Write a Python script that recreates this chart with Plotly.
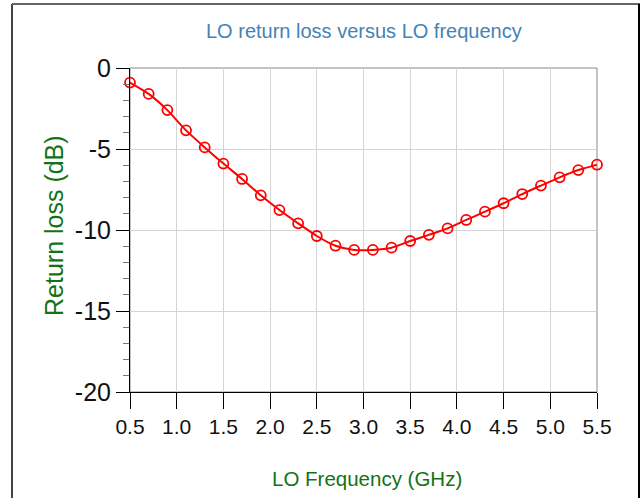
import plotly.graph_objects as go

freq_ghz = [0.5, 0.7, 0.9, 1.1, 1.3, 1.5, 1.7, 1.9, 2.1, 2.3, 2.5, 2.7, 2.9,
            3.1, 3.3, 3.5, 3.7, 3.9, 4.1, 4.3, 4.5, 4.7, 4.9, 5.1, 5.3, 5.5]
return_loss_db = [-0.9, -1.6, -2.6, -3.85, -4.9, -5.9, -6.85, -7.86, -8.77, -9.59,
                  -10.37, -10.97, -11.23, -11.23, -11.09, -10.68, -10.3, -9.9,
                  -9.38, -8.87, -8.35, -7.78, -7.26, -6.75, -6.3, -5.97]
x_ticks = [0.5, 1.0, 1.5, 2.0, 2.5, 3.0, 3.5, 4.0, 4.5, 5.0, 5.5]
y_ticks = [0, -5, -10, -15, -20]

W, H = 642, 498
L, R, T, B = 130, 45, 68, 106
pw, ph = W - L - R, H - T - B

def px(x):
    return (x - L) / pw

def py(y):
    return (H - B - y) / ph

fig = go.Figure()
fig.add_trace(go.Scatter(
    x=freq_ghz, y=return_loss_db, mode="lines+markers",
    line=dict(color="#ff0000", width=2, shape="spline", smoothing=0.6),
    marker=dict(symbol="circle-open", size=10, color="#ff0000", line=dict(width=1.8)),
    showlegend=False, cliponaxis=False,
))

font = "Liberation Sans, Arial, sans-serif"
fig.update_layout(
    width=W, height=H,
    margin=dict(l=L, r=R, t=T, b=B),
    paper_bgcolor="white", plot_bgcolor="white",
    font=dict(family=font, color="black"),
    xaxis=dict(
        range=[0.5, 5.5], tickvals=x_ticks, ticktext=[f"{v:.1f}" for v in x_ticks],
        showgrid=True, gridcolor="#d4d4d4", gridwidth=1,
        showline=True, linecolor="black", linewidth=1, zeroline=False,
        ticks="outside", ticklen=16, tickcolor="black", tickwidth=1,
        tickfont=dict(size=21, family=font, color="#111"),
    ),
    yaxis=dict(
        range=[-20, 0], tickvals=y_ticks, ticktext=[str(v) for v in y_ticks],
        showgrid=True, gridcolor="#d4d4d4", gridwidth=1,
        showline=True, linecolor="black", linewidth=1, zeroline=False,
        ticks="outside", ticklen=13, tickcolor="black", tickwidth=1,
        tickfont=dict(size=25, family=font, color="#111"),
        minor=dict(dtick=1, ticks="outside", ticklen=6, tickcolor="#777", showgrid=False),
    ),
    shapes=[
        dict(type="rect", xref="paper", yref="paper", x0=0, x1=1, y0=0, y1=1,
             line=dict(color="#888", width=1), layer="below"),
        dict(type="line", xref="paper", yref="paper", x0=px(12), x1=px(12), y0=py(4), y1=py(498),
             line=dict(color="#444", width=2)),
        dict(type="line", xref="paper", yref="paper", x0=px(12), x1=px(640), y0=py(4), y1=py(4),
             line=dict(color="#666", width=2)),
        dict(type="line", xref="paper", yref="paper", x0=px(639), x1=px(639), y0=py(4), y1=py(498),
             line=dict(color="#000", width=2)),
    ],
    annotations=[
        dict(text="LO return loss versus LO frequency", xref="paper", yref="paper",
             x=px(364), y=py(31), showarrow=False, xanchor="center", yanchor="middle",
             font=dict(size=20, color="#4682b4", family=font)),
        dict(text="LO Frequency (GHz)", xref="paper", yref="paper",
             x=px(367), y=py(478), showarrow=False, xanchor="center", yanchor="middle",
             font=dict(size=20.5, color="#137313", family=font)),
        dict(text="Return loss (dB)", xref="paper", yref="paper", textangle=-90,
             x=px(54), y=py(226), showarrow=False, xanchor="center", yanchor="middle",
             font=dict(size=25, color="#137313", family=font)),
    ],
)

fig.write_html("out.html")
